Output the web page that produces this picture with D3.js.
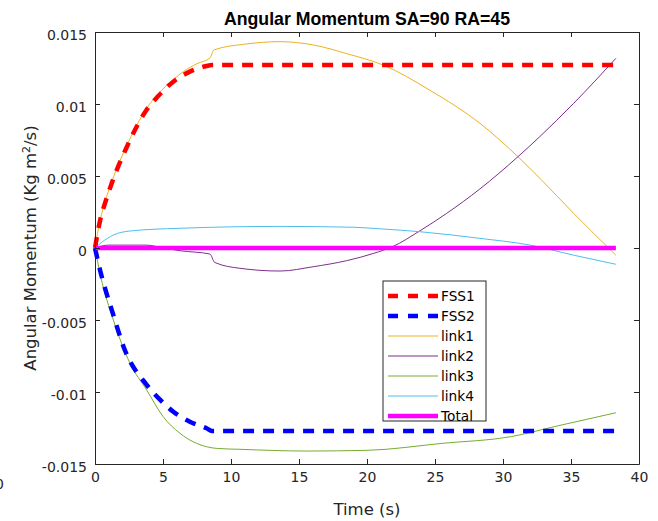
<!DOCTYPE html>
<html>
<head>
<meta charset="utf-8">
<script src="https://cdn.jsdelivr.net/npm/d3@7/dist/d3.min.js"></script>
<style>
  html, body { margin: 0; padding: 0; background: #fff; }
  svg { display: block; font-family: "DejaVu Sans", sans-serif; }
</style>
</head>
<body>
<svg id="chart" width="658" height="521"></svg>
<script>
// Angular momentum time histories (time in s, momentum in Kg m^2/s)
const fss1T = [0, 0.37, 0.8, 1.23, 2.33, 3.8, 4.65, 5.76, 6.98, 8.2, 8.6, 38.3];
const fss1V = [0, 0.0019, 0.0033, 0.0045, 0.0070, 0.0096, 0.01055, 0.01155, 0.01225, 0.01264, 0.0127, 0.0127];

const fss2T = [0, 0.37, 0.8, 1.23, 2.2, 3.8, 4.8, 5.76, 6.98, 8.2, 8.6, 38.3];
const fss2V = [0, -0.00153, -0.0030, -0.0043, -0.0071, -0.0095, -0.01055, -0.01137, -0.01206, -0.01252, -0.0127, -0.0127];

const link1T = [0, 0.37, 0.8, 1.23, 2.33, 3.8, 4.65, 5.76, 6.5, 7.5, 8.45, 8.75, 11.15, 13.6, 16.05, 18.5, 21.2, 24.6, 28.3, 31.1, 32.7, 35.2, 38.3];
const link1V = [0, 0.0019, 0.0034, 0.0046, 0.0071, 0.0097, 0.0107, 0.0117, 0.01225, 0.0128, 0.0132, 0.01375, 0.01417, 0.01433, 0.0141, 0.0135, 0.0127, 0.01097, 0.00866, 0.00634, 0.00485, 0.0024, -0.0005];

const link2T = [0, 1, 3.8, 5, 6.25, 8.45, 8.8, 10.66, 13.6, 16.05, 18.5, 20.5, 21.9, 23.9, 25.85, 28.3, 31.1, 32.7, 35.2, 38.3];
const link2V = [0, 0.0002, 0.0002, 0, -0.00019, -0.00042, -0.001, -0.00141, -0.0016, -0.0013, -0.00088, -0.00037, 0.0001, 0.0012, 0.0024, 0.0041, 0.00634, 0.00773, 0.01005, 0.01317];

const link3T = [0, 0.4, 1.35, 2.57, 3.8, 5, 6.25, 8.2, 9, 10.66, 15.5, 20, 25.6, 30.6, 33.8, 38.3];
const link3V = [0, -0.0019, -0.005, -0.008, -0.00986, -0.0117, -0.01287, -0.0138, -0.01392, -0.01398, -0.0141, -0.01405, -0.01356, -0.0131, -0.0124, -0.01144];

const link4T = [0, 0.5, 1.35, 2.57, 6.25, 13.6, 19, 21, 23.9, 28.3, 32, 35.2, 38.3];
const link4V = [0, 0.0004, 0.0009, 0.00118, 0.00137, 0.0015, 0.00144, 0.00133, 0.00113, 0.00067, 0.0002, -0.0005, -0.00113];

const totalT = [0, 38.3];
const totalV = [0, 0];

const seriesNames = ["FSS1", "FSS2", "link1", "link2", "link3", "link4", "Total"];
const xTicks = [0, 5, 10, 15, 20, 25, 30, 35, 40];
const yTicks = [-0.015, -0.01, -0.005, 0, 0.005, 0.01, 0.015];

const styles = {
  FSS1:  { color: "#ff0000", width: 4.5, dash: "11,9" },
  FSS2:  { color: "#0000ff", width: 4.5, dash: "11,9" },
  link1: { color: "#edb120", width: 1, dash: null },
  link2: { color: "#7e2f8e", width: 1, dash: null },
  link3: { color: "#77ac30", width: 1, dash: null },
  link4: { color: "#4dbeee", width: 1, dash: null },
  Total: { color: "#ff00ff", width: 4.5, dash: null }
};

const seriesData = {
  FSS1: [fss1T, fss1V], FSS2: [fss2T, fss2V],
  link1: [link1T, link1V], link2: [link2T, link2V],
  link3: [link3T, link3V], link4: [link4T, link4V],
  Total: [totalT, totalV]
};

const svg = d3.select("#chart");
const m = { left: 95, right: 639, top: 32, bottom: 464 };

const x = d3.scaleLinear().domain([0, 40]).range([m.left, m.right]);
const y = d3.scaleLinear().domain([-0.015, 0.015]).range([m.bottom, m.top]);

const axisColor = "#262626";
const tickFont = "'DejaVu Sans', sans-serif";
const tickFmt = d => d === 0 ? "0" : String(+d.toFixed(3));

// plot lines
const line = d3.line().x(d => x(d[0])).y(d => y(d[1])).curve(d3.curveMonotoneX);
const lines = svg.append("g");
const drawOrder = ["link1", "link2", "link3", "link4", "FSS1", "FSS2", "Total"];
drawOrder.forEach(name => {
  const [ts, vs] = seriesData[name];
  const pts = ts.map((t, i) => [t, vs[i]]);
  const s = styles[name];
  lines.append("path")
    .attr("d", line(pts))
    .attr("fill", "none")
    .attr("stroke", s.color)
    .attr("stroke-width", s.width)
    .attr("stroke-dasharray", s.dash)
    .attr("stroke-linejoin", "round");
});

// axes: boxed frame with inward ticks on all four sides
const bottomAxis = d3.axisBottom(x).tickValues(xTicks).tickSizeInner(-5).tickSizeOuter(0).tickPadding(8);
const topAxis = d3.axisTop(x).tickValues(xTicks).tickSizeInner(-5).tickSizeOuter(0).tickFormat("");
const leftAxis = d3.axisLeft(y).tickValues(yTicks).tickSizeInner(-5).tickSizeOuter(0).tickPadding(8).tickFormat(tickFmt);
const rightAxis = d3.axisRight(y).tickValues(yTicks).tickSizeInner(-5).tickSizeOuter(0).tickFormat("");

function styleAxis(g) {
  g.selectAll("path").attr("stroke", axisColor).attr("stroke-width", 1);
  g.selectAll("line").attr("stroke", axisColor).attr("stroke-width", 1);
  g.selectAll("text").attr("fill", axisColor).style("font-size", "14px")
    .style("font-family", tickFont);
}

svg.append("g").attr("transform", `translate(0,${m.bottom})`).call(bottomAxis).call(styleAxis);
svg.append("g").attr("transform", `translate(0,${m.top})`).call(topAxis).call(styleAxis);
svg.append("g").attr("transform", `translate(${m.left},0)`).call(leftAxis).call(styleAxis)
  .selectAll("text").attr("dy", "0.5em");
svg.append("g").attr("transform", `translate(${m.right},0)`).call(rightAxis).call(styleAxis);

// title and axis labels
svg.append("text")
  .attr("x", (m.left + m.right) / 2).attr("y", 25)
  .attr("text-anchor", "middle")
  .style("font-family", "'Liberation Sans', Arial, sans-serif")
  .attr("font-weight", "bold").attr("font-size", 17.7).attr("fill", "#000")
  .text("Angular Momentum SA=90 RA=45");

svg.append("text")
  .attr("x", (m.left + m.right) / 2).attr("y", 515)
  .attr("text-anchor", "middle")
  .attr("font-size", 16.5).attr("fill", axisColor)
  .text("Time (s)");

const yl = svg.append("text")
  .attr("transform", `translate(36,${(m.top + m.bottom) / 2}) rotate(-90)`)
  .attr("text-anchor", "middle")
  .attr("font-size", 16.5).attr("fill", axisColor);
yl.append("tspan").text("Angular Momentum (Kg m");
yl.append("tspan").attr("baseline-shift", "super").attr("font-size", 11).text("2");
yl.append("tspan").text("/s)");

// partially clipped label at the far left edge
svg.append("text").attr("x", -5).attr("y", 489).attr("font-size", 14).attr("fill", axisColor).text("0");

// legend
const lg = svg.append("g");
const lgX = 383, lgY = 281, lgW = 103, lgH = 140, rowH = 20;
lg.append("rect").attr("x", lgX).attr("y", lgY).attr("width", lgW).attr("height", lgH)
  .attr("fill", "#fff").attr("stroke", axisColor).attr("stroke-width", 1);
seriesNames.forEach((name, i) => {
  const s = styles[name];
  const cy = lgY + 15 + i * rowH;
  lg.append("line")
    .attr("x1", lgX + 5).attr("x2", lgX + 55).attr("y1", cy).attr("y2", cy)
    .attr("stroke", s.color).attr("stroke-width", s.width)
    .attr("stroke-dasharray", s.dash ? "10,10" : null);
  lg.append("text")
    .attr("x", lgX + 58).attr("y", cy + 5)
    .attr("font-size", 13.7).attr("fill", "#000")
    .text(name);
});
</script>
</body>
</html>
